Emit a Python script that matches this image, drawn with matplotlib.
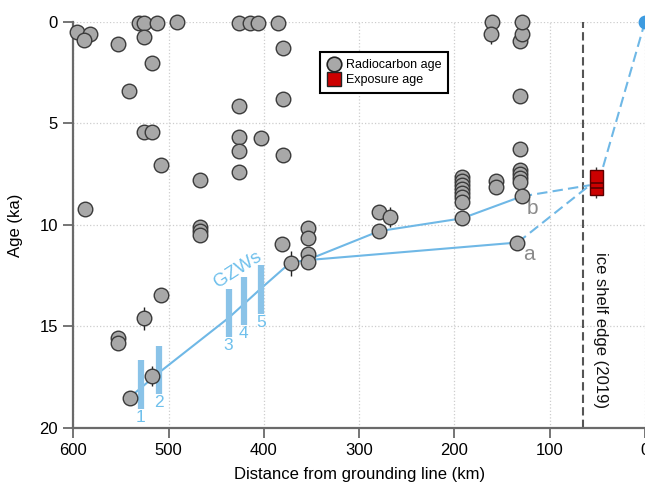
import numpy as np
from matplotlib import pyplot as plt
from matplotlib.lines import Line2D

plt.rcParams['font.family'] = ['Liberation Sans', 'DejaVu Sans']

############### data ###################
# radiocarbon ages (distance km, age ka)
rc_km = [596, 583, 589, 553, 531, 526, 526, 517, 542, 512, 491, 526, 517, 508, 467, 588,
         467, 467, 467, 508, 553, 553, 541,
         426, 415, 406, 385, 380, 380, 426, 426, 403, 426, 380, 426,
         381, 354, 354, 354, 354, 279, 279,
         192, 192, 192, 192, 192, 192, 192, 192,
         156, 156,
         131, 131, 131, 131, 131, 129, 131, 131, 129, 129, 161, 134]
rc_age = [0.52, 0.62, 0.90, 1.11, 0.06, 0.05, 0.75, 2.05, 3.41, 0.08, 0.03, 5.42, 5.42, 7.06, 7.8, 9.23,
          10.1, 10.3, 10.5, 13.46, 15.57, 15.81, 18.5,
          0.05, 0.05, 0.05, 0.05, 1.31, 3.82, 4.17, 5.68, 5.75, 6.37, 6.58, 7.39,
          10.92, 10.18, 10.67, 11.44, 11.82, 9.36, 10.31,
          7.64, 7.85, 8.05, 8.25, 8.45, 8.65, 8.87, 9.68,
          7.83, 8.13,
          6.27, 7.3, 7.5, 7.7, 7.9, 8.6, 3.64, 0.95, 0.62, 0.03, 0.03, 10.87]
# radiocarbon ages with error bars
rc_err_km = [517, 526, 372, 268, 162]
rc_err_age = [17.45, 14.61, 11.9, 9.6, 0.62]
rc_err = [0.5, 0.57, 0.6, 0.5, 0.5]

# exposure age box (km, q1, q3, lines, whiskers)
exp_km = 51
exp_q1, exp_q3 = 7.31, 8.54
exp_mid = [7.96, 8.2]
exp_whisk = [7.14, 8.7]

# grounding zone wedges
gzw_km = [529, 510, 437, 421, 403]
gzw_top = [16.63, 15.94, 13.17, 12.56, 11.99]
gzw_bot = [19.05, 18.34, 15.52, 14.94, 14.37]
gzw_lab = ['1', '2', '3', '4', '5']

# retreat paths
path_km = [541, 510, 437, 403, 372, 355]
path_age = [18.5, 17.27, 14.58, 13.13, 11.85, 11.74]
path_b_km = [355, 279, 192, 129.4]
path_b_age = [11.74, 10.31, 9.68, 8.6]
path_a_km = [355, 133.6]
path_a_age = [11.74, 10.87]
dash_b_km = [129.4, 58]
dash_b_age = [8.6, 8.05]
dash_a_km = [133.6, 58]
dash_a_age = [10.87, 8.05]
dash_top_km = [44, 0]
dash_top_age = [7.15, 0]

shelf_edge_km = 64.7

blue = '#6fb8e6'
gzw_col = '#8ac3e8'
gray_fc = '#a8a8a8'
gray_ec = '#3a3a3a'

############### plot ###################
fig = plt.figure(figsize=(6.45, 4.83), dpi=100)
ax = fig.add_axes([0.1137, 0.1139, 0.8863, 0.8412])

ax.set_xlim(600, 0)
ax.set_ylim(20, 0)
ax.set_xticks([600, 500, 400, 300, 200, 100, 0])
ax.set_yticks([0, 5, 10, 15, 20])
ax.grid(True, color='#cdcdcd', linestyle=':', linewidth=0.9)
ax.set_axisbelow(True)
for s in ['top', 'right']:
    ax.spines[s].set_visible(False)
for s in ['left', 'bottom']:
    ax.spines[s].set_color('#6a6a6a')
    ax.spines[s].set_linewidth(1.6)
ax.tick_params(direction='out', length=7, width=1.3, color='#6a6a6a', labelsize=12, pad=4)

# ice shelf edge
ax.axvline(shelf_edge_km, color='#555555', linestyle=(0, (4, 2)), linewidth=1.5, zorder=2)
ax.text(47, 15.2, 'ice shelf edge (2019)', rotation=-90, ha='center', va='center',
        fontsize=12, color='#111111')

# retreat paths
ax.plot(path_km, path_age, color=blue, lw=1.5, zorder=2)
ax.plot(path_b_km, path_b_age, color=blue, lw=1.5, zorder=2)
ax.plot(path_a_km, path_a_age, color=blue, lw=1.5, zorder=2)
for xs, ys in [(dash_b_km, dash_b_age), (dash_a_km, dash_a_age), (dash_top_km, dash_top_age)]:
    ax.plot(xs, ys, color=blue, lw=1.5, linestyle=(0, (5, 2.5)), zorder=2)
ax.plot([0], [0], 'o', color='#3d9be0', markersize=9, clip_on=False, zorder=5)

# GZWs
for k, t, b, lab in zip(gzw_km, gzw_top, gzw_bot, gzw_lab):
    ax.plot([k, k], [t, b], color=gzw_col, lw=4.5, solid_capstyle='butt', zorder=3)
    ax.text(k, b + 0.05, lab, ha='center', va='top', fontsize=12.5, color='#6fc0ec')
ax.text(427, 12.2, 'GZWs', rotation=33, ha='center', va='center', fontsize=13.5, color='#6fc0ec')

# radiocarbon
ax.errorbar(rc_err_km, rc_err_age, yerr=rc_err, fmt='none', ecolor='#222222', elinewidth=1,
            capsize=0, zorder=3)
ax.scatter(rc_km + rc_err_km, rc_age + rc_err_age, s=110, facecolor=gray_fc, edgecolor=gray_ec,
           linewidth=1.0, zorder=4, clip_on=False)

# exposure age
ax.vlines(exp_km, exp_whisk[0], exp_whisk[1], color='#333333', lw=1, zorder=4)
ax.bar(exp_km, exp_q3 - exp_q1, bottom=exp_q1, width=14, color='#cc0000',
       edgecolor='#5a0000', linewidth=1, zorder=5)
ax.hlines(exp_mid, exp_km - 7, exp_km + 7, color='#5a0000', lw=1.2, zorder=6)

ax.text(118, 9.2, 'b', fontsize=15, color='#8a8a8a', ha='center', va='center')
ax.text(122, 11.45, 'a', fontsize=15, color='#8a8a8a', ha='center', va='center')

ax.set_xlabel('Distance from grounding line (km)', fontsize=12, labelpad=6)
ax.set_ylabel('Age (ka)', fontsize=12, labelpad=12)

handles = [Line2D([], [], marker='o', linestyle='none', markersize=10.5, markerfacecolor=gray_fc,
                  markeredgecolor='#222222', markeredgewidth=1.2),
           Line2D([], [], marker='s', linestyle='none', markersize=10.5, markerfacecolor='#cc0000',
                  markeredgecolor='#222222', markeredgewidth=1.0)]
leg = ax.legend(handles, ['Radiocarbon age', 'Exposure age'], loc='upper left',
                bbox_to_anchor=(0.4315, 0.925), borderaxespad=0, fontsize=9, fancybox=False,
                framealpha=1, edgecolor='black', handletextpad=0.3, borderpad=0.55,
                labelspacing=0.25, handlelength=1.2)
leg.get_frame().set_linewidth(1.5)

fig.savefig('out.png', dpi=100)
